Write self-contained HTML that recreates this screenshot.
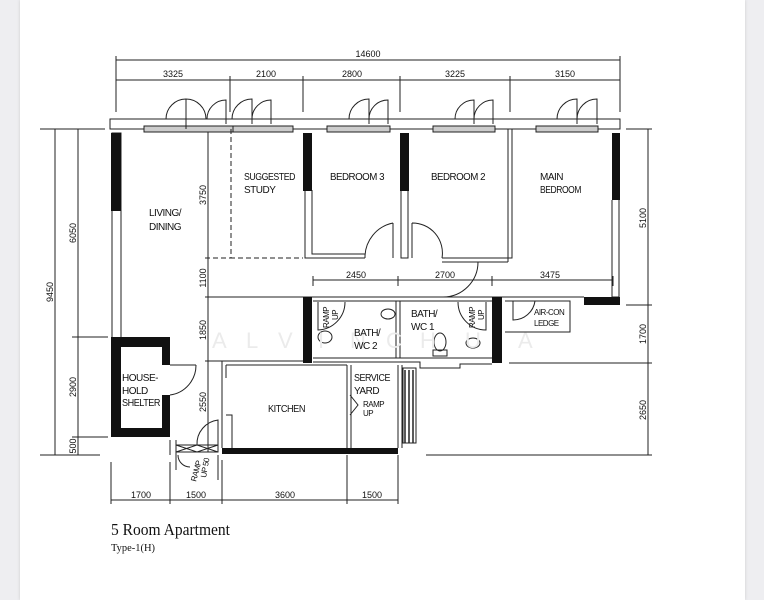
<!DOCTYPE html>
<html><head><meta charset="utf-8"><style>
html,body{margin:0;padding:0;background:#eeeef1;}
.page{position:absolute;left:20px;top:0;width:725px;height:600px;background:#fff;box-shadow:0 0 3px #ccc;}
svg{position:absolute;left:0;top:0;}
text{font-family:"Liberation Sans",sans-serif;fill:#111;}
.lb text{letter-spacing:-0.5px;}
</style></head><body>
<div class="page"></div>
<svg width="764" height="600" viewBox="0 0 764 600" xmlns="http://www.w3.org/2000/svg">
<g stroke="#222" stroke-width="1" fill="none">
<line x1="116" y1="60" x2="620" y2="60"/>
<line x1="116" y1="80" x2="620" y2="80"/>
<line x1="116" y1="56" x2="116" y2="112"/><line x1="620" y1="56" x2="620" y2="112"/>
<line x1="230" y1="76" x2="230" y2="112"/><line x1="303" y1="76" x2="303" y2="112"/>
<line x1="400" y1="76" x2="400" y2="112"/><line x1="510" y1="76" x2="510" y2="112"/>
<line x1="55" y1="129" x2="55" y2="455"/><line x1="78" y1="129" x2="78" y2="455"/>
<line x1="40" y1="129" x2="105" y2="129"/><line x1="40" y1="455" x2="100" y2="455"/>
<line x1="72" y1="337" x2="108" y2="337"/><line x1="72" y1="437" x2="108" y2="437"/>
<line x1="648" y1="129" x2="648" y2="455"/>
<line x1="626" y1="129" x2="652" y2="129"/><line x1="626" y1="305" x2="652" y2="305"/>
<line x1="509" y1="363" x2="652" y2="363"/><line x1="426" y1="455" x2="652" y2="455"/>
<line x1="208" y1="129" x2="208" y2="452"/>
<line x1="205" y1="258" x2="231" y2="258" stroke-dasharray="5,3"/>
<line x1="205" y1="297" x2="303" y2="297"/>
<line x1="205" y1="361" x2="222" y2="361"/>
<line x1="313" y1="280" x2="613" y2="280"/>
<line x1="313" y1="276" x2="313" y2="286"/><line x1="398" y1="276" x2="398" y2="286"/>
<line x1="492" y1="276" x2="492" y2="286"/><line x1="613" y1="276" x2="613" y2="286"/>
<line x1="111" y1="500" x2="398" y2="500"/>
<line x1="111" y1="462" x2="111" y2="504"/><line x1="170" y1="462" x2="170" y2="504"/>
<line x1="222" y1="460" x2="222" y2="504"/><line x1="347" y1="455" x2="347" y2="504"/>
<line x1="398" y1="455" x2="398" y2="504"/>
<rect x="110" y="119" width="510" height="10"/>
<line x1="110" y1="129" x2="620" y2="129"/>
<g fill="#ccc"><rect x="144" y="126" width="89" height="6"/><rect x="233" y="126" width="60" height="6"/>
<rect x="327" y="126" width="63" height="6"/><rect x="433" y="126" width="62" height="6"/><rect x="536" y="126" width="62" height="6"/></g>
<path d="M166 119 A20 20 0 0 1 186 99 L186 129 M206 119 A20 20 0 0 0 186 99"/>
<path d="M207 119 A19 19 0 0 1 226 100 L226 124"/>
<path d="M232 119 A20 20 0 0 1 252 99 L252 124 M252 119 A19 19 0 0 1 271 100 L271 124"/>
<path d="M349 119 A20 20 0 0 1 369 99 L369 124 M369 119 A19 19 0 0 1 388 100 L388 124"/>
<path d="M455 119 A19 19 0 0 1 474 100 L474 124 M474 119 A19 19 0 0 1 493 100 L493 124"/>
<path d="M557 119 A20 20 0 0 1 577 99 L577 124 M577 119 A20 20 0 0 1 597 99 L597 124"/>
<rect x="112" y="133" width="9" height="207"/>
<path d="M231 129 L231 258 L303 258" stroke-dasharray="5,3"/>
<path d="M305 190 L305 258 L365 258 M312 190 L312 254 L365 254"/>
<path d="M393 258 L393 223 M393 223 A35 35 0 0 0 365 258"/>
<path d="M401 190 L401 258 L408 258 L408 190"/>
<path d="M412 223 L412 258 M412 223 A30 30 0 0 1 442 258"/>
<path d="M442 258 L512 258 L512 129 M442 262 L508 262 M508 262 L508 129"/>
<path d="M478 262 A35 35 0 0 1 443 297"/>
<path d="M612 200 L612 297 L619 297 L619 200"/>
<line x1="303" y1="297" x2="584" y2="297"/><line x1="313" y1="301" x2="492" y2="301"/>
<line x1="396" y1="301" x2="396" y2="358"/><line x1="400" y1="301" x2="400" y2="358"/>
<path d="M313 358 L492 358 M313 362 L420 362 L420 368 L460 368 L460 364 L492 364"/>
<path d="M318 302 L318 330 A28 28 0 0 0 345 302"/>
<path d="M458 302 A28 28 0 0 0 486 330 L486 302"/>
<ellipse cx="325" cy="337" rx="7" ry="6"/><ellipse cx="440" cy="342" rx="6" ry="9"/><rect x="433" y="350" width="14" height="6"/>
<ellipse cx="473" cy="343" rx="7" ry="5"/><ellipse cx="388" cy="314" rx="7" ry="5"/>
<path d="M505 301 L570 301 L570 332 L505 332"/>
<path d="M513 301 L513 320 A22 22 0 0 0 535 301"/>
<path d="M222 361 L303 361 M226 365 L347 365 M222 361 L222 448 M226 365 L226 378 M226 415 L232 415 L232 448"/>
<path d="M347 365 L347 448 M351 365 L351 448 M398 365 L398 448 M402 365 L402 448"/>
<g stroke-width="1.5"><line x1="405" y1="370" x2="405" y2="443"/><line x1="409" y1="370" x2="409" y2="443"/><line x1="413" y1="370" x2="413" y2="443"/></g>
<rect x="403" y="368" width="13" height="75"/>
<path d="M350 395 L358 405 L350 415"/>
<path d="M170 365 L196 365 M170 395 A30 30 0 0 0 196 365"/>
<path d="M176 440 L176 470 M170 440 L170 455 M176 445 L218 445 L218 452 L176 452 Z M176 445 L197 452 L218 445 M176 452 L197 445 L218 452"/>
<path d="M197 445 A24 24 0 0 1 218 420 L218 445 M218 455 L218 480"/>
<path d="M178 455 A12 12 0 0 0 190 467"/>
</g>
<g fill="#111">
<rect x="111" y="133" width="10" height="78"/>
<rect x="303" y="133" width="9" height="58"/><rect x="400" y="133" width="9" height="58"/>
<rect x="612" y="133" width="8" height="67"/><rect x="584" y="297" width="36" height="8"/>
<rect x="303" y="297" width="9" height="66"/><rect x="492" y="297" width="10" height="66"/>
<path d="M111 337 L170 337 L170 365 L162 365 L162 347 L121 347 L121 428 L162 428 L162 395 L170 395 L170 437 L111 437 Z"/>
<rect x="222" y="448" width="176" height="6"/>
</g>
<g font-size="22" style="font-family:'Liberation Serif',serif">
<text x="212" y="348" style="fill:#ebebeb">A</text><text x="246" y="348" style="fill:#ebebeb">L</text><text x="278" y="348" style="fill:#ebebeb">V</text><text x="318" y="348" style="fill:#ebebeb">I</text><text x="350" y="348" style="fill:#ebebeb">N</text><text x="386" y="348" style="fill:#ebebeb">C</text><text x="420" y="348" style="fill:#ebebeb">H</text><text x="465" y="348" style="fill:#ebebeb">U</text><text x="518" y="348" style="fill:#ebebeb">A</text>
</g>
<g font-size="9" text-anchor="middle">
<text x="368" y="57">14600</text>
<text x="173" y="77">3325</text><text x="266" y="77">2100</text><text x="352" y="77">2800</text><text x="455" y="77">3225</text><text x="565" y="77">3150</text>
<text x="356" y="278">2450</text><text x="445" y="278">2700</text><text x="550" y="278">3475</text>
<text x="141" y="498">1700</text><text x="196" y="498">1500</text><text x="285" y="498">3600</text><text x="372" y="498">1500</text>
<text transform="translate(53,292) rotate(-90)">9450</text>
<text transform="translate(76,233) rotate(-90)">6050</text>
<text transform="translate(76,387) rotate(-90)">2900</text>
<text transform="translate(76,446) rotate(-90)">500</text>
<text transform="translate(206,195) rotate(-90)">3750</text>
<text transform="translate(206,278) rotate(-90)">1100</text>
<text transform="translate(206,330) rotate(-90)">1850</text>
<text transform="translate(206,402) rotate(-90)">2550</text>
<text transform="translate(646,218) rotate(-90)">5100</text>
<text transform="translate(646,334) rotate(-90)">1700</text>
<text transform="translate(646,410) rotate(-90)">2650</text>
</g>
<g font-size="10" class="lb">
<text x="149" y="216">LIVING/</text><text x="149" y="230">DINING</text>
<text x="244" y="180" textLength="51" lengthAdjust="spacingAndGlyphs">SUGGESTED</text><text x="244" y="193">STUDY</text>
<text x="330" y="180" textLength="54" lengthAdjust="spacingAndGlyphs">BEDROOM 3</text><text x="431" y="180" textLength="54" lengthAdjust="spacingAndGlyphs">BEDROOM 2</text>
<text x="540" y="180">MAIN</text><text x="540" y="193" textLength="41" lengthAdjust="spacingAndGlyphs">BEDROOM</text>
<text x="354" y="336">BATH/</text><text x="354" y="349">WC 2</text>
<text x="411" y="317">BATH/</text><text x="411" y="330">WC 1</text>
<text x="122" y="381" textLength="36" lengthAdjust="spacingAndGlyphs">HOUSE-</text><text x="122" y="394">HOLD</text><text x="122" y="406" textLength="38" lengthAdjust="spacingAndGlyphs">SHELTER</text>
<text x="268" y="412" textLength="37" lengthAdjust="spacingAndGlyphs">KITCHEN</text>
<text x="354" y="381" textLength="36" lengthAdjust="spacingAndGlyphs">SERVICE</text><text x="354" y="394">YARD</text>
</g>
<g font-size="8" class="lb">
<text x="534" y="315">AIR-CON</text><text x="534" y="326">LEDGE</text>
<text x="363" y="407">RAMP</text><text x="363" y="416">UP</text>
<text transform="translate(329,328) rotate(-90)">RAMP</text><text transform="translate(338,320) rotate(-90)">UP</text>
<text transform="translate(475,328) rotate(-90)">RAMP</text><text transform="translate(484,320) rotate(-90)">UP</text>
<text transform="translate(196,482) rotate(-75)">RAMP</text><text transform="translate(206,478) rotate(-80)">UP 50</text>
</g>
<text x="111" y="535" font-size="17" textLength="119" lengthAdjust="spacingAndGlyphs" style="font-family:'Liberation Serif',serif">5 Room Apartment</text>
<text x="111" y="551" font-size="11" textLength="44" lengthAdjust="spacingAndGlyphs" style="font-family:'Liberation Serif',serif">Type-1(H)</text>
</svg>
</body></html>
